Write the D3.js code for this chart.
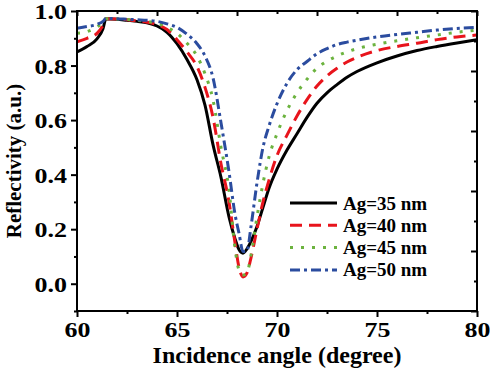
<!DOCTYPE html>
<html>
<head>
<meta charset="utf-8">
<script src="https://cdn.jsdelivr.net/npm/d3@7"></script>
<style>
  body { margin: 0; background: #fff; }
  svg text { font-family: "Liberation Serif", "Times New Roman", serif; font-weight: bold; fill: #000; }
</style>
</head>
<body>
<div id="chart"></div>
<script>
// Incidence angles (degree) shared by all curves
const angles = [60, 60.5, 61, 61.3, 61.45, 62, 62.5, 63, 63.5, 64, 64.5, 65, 65.5, 66, 66.4, 66.8,
  67.2, 67.6, 67.9, 68.1, 68.3, 68.5, 68.7, 69, 69.3, 69.6, 70, 70.5, 71, 71.5, 72,
  72.5, 73, 73.5, 74, 75, 76, 77, 78, 79, 80];

// Reflectivity
const ag35 = [0.850, 0.870, 0.898, 0.935, 0.972, 0.970, 0.966, 0.962, 0.957, 0.945, 0.922, 0.880, 0.822, 0.748, 0.655, 0.510,
  0.390, 0.245, 0.165, 0.125, 0.112, 0.128, 0.155, 0.210, 0.280, 0.350, 0.420, 0.490, 0.550, 0.610, 0.662,
  0.700, 0.730, 0.757, 0.778, 0.810, 0.835, 0.855, 0.870, 0.883, 0.895];
const ag40 = [0.887, 0.900, 0.918, 0.948, 0.972, 0.971, 0.968, 0.964, 0.959, 0.950, 0.932, 0.895, 0.850, 0.796, 0.720, 0.610,
  0.440, 0.300, 0.150, 0.060, 0.025, 0.040, 0.095, 0.200, 0.300, 0.380, 0.470, 0.545, 0.615, 0.675, 0.725,
  0.762, 0.790, 0.813, 0.830, 0.855, 0.870, 0.882, 0.895, 0.905, 0.912];
const ag45 = [0.918, 0.924, 0.942, 0.958, 0.972, 0.971, 0.969, 0.966, 0.962, 0.955, 0.940, 0.918, 0.882, 0.835, 0.770, 0.674,
  0.500, 0.344, 0.130, 0.050, 0.032, 0.040, 0.105, 0.245, 0.368, 0.465, 0.550, 0.635, 0.700, 0.750, 0.790,
  0.816, 0.835, 0.850, 0.862, 0.878, 0.891, 0.902, 0.912, 0.922, 0.930];
const ag50 = [0.937, 0.943, 0.951, 0.962, 0.973, 0.972, 0.970, 0.968, 0.966, 0.962, 0.953, 0.940, 0.915, 0.880, 0.835, 0.755,
  0.590, 0.410, 0.255, 0.185, 0.118, 0.120, 0.210, 0.370, 0.500, 0.578, 0.660, 0.735, 0.785, 0.815, 0.843,
  0.862, 0.877, 0.886, 0.893, 0.905, 0.914, 0.922, 0.930, 0.936, 0.940];

const seriesNames = ['Ag=35 nm', 'Ag=40 nm', 'Ag=45 nm', 'Ag=50 nm'];
const seriesValues = [ag35, ag40, ag45, ag50];
const seriesColors = ['#000000', '#e8141c', '#6cb33f', '#2b4c9f'];
const seriesDashes = [null, '12,7', '3,8', '10,4,3,4'];

const xTicks = [60, 65, 70, 75, 80];
const yTicks = [0.0, 0.2, 0.4, 0.6, 0.8, 1.0];

class LineChart {

  constructor(_config, _data) {
    this.config = {
      parentElement: _config.parentElement,
      containerWidth: 490,
      containerHeight: 375,
      margin: { top: 11, right: 13, bottom: 64, left: 77 }
    }
    this.data = _data;
    this.initVis();
  }

  initVis() {
    let vis = this;

    vis.width = vis.config.containerWidth - vis.config.margin.left - vis.config.margin.right;
    vis.height = vis.config.containerHeight - vis.config.margin.top - vis.config.margin.bottom;

    vis.xScale = d3.scaleLinear().domain([60, 80]).range([0, vis.width]);
    vis.yScale = d3.scaleLinear().domain([-0.1, 1.0]).range([vis.height, 0]);
    // right frame carries its own evenly spaced ticks
    vis.rScale = d3.scaleLinear().domain([0, 10]).range([vis.height, 0]);

    vis.svg = d3.select(vis.config.parentElement).append('svg')
      .attr('width', vis.config.containerWidth)
      .attr('height', vis.config.containerHeight);

    vis.chartArea = vis.svg.append('g')
      .attr('transform', `translate(${vis.config.margin.left},${vis.config.margin.top})`);

    vis.svg.append('clipPath').attr('id', 'plot-clip')
      .append('rect')
      .attr('width', vis.width)
      .attr('height', vis.height);

    vis.updateVis();
  }

  updateVis() {
    let vis = this;
    vis.series = seriesNames.map((name, i) => ({
      name: name,
      color: seriesColors[i],
      dash: seriesDashes[i],
      points: angles.map((a, j) => ({ x: a, y: seriesValues[i][j] }))
    }));
    vis.renderVis();
  }

  renderVis() {
    let vis = this;

    const line = d3.line()
      .x(d => vis.xScale(d.x))
      .y(d => vis.yScale(d.y))
      .curve(d3.curveMonotoneX);

    vis.chartArea.append('g')
      .attr('clip-path', 'url(#plot-clip)')
      .selectAll('.curve')
      .data(vis.series)
      .join('path')
      .attr('class', 'curve')
      .attr('fill', 'none')
      .attr('stroke', d => d.color)
      .attr('stroke-width', 3)
      .attr('stroke-dasharray', d => d.dash)
      .attr('d', d => line(d.points));

    // Bottom axis: majors every 5, minors in between
    const xMinor = d3.range(60, 80.01, 2.5).filter(v => !xTicks.includes(v));
    const bottomMinor = vis.chartArea.append('g')
      .attr('transform', `translate(0,${vis.height})`)
      .call(d3.axisBottom(vis.xScale).tickValues(xMinor).tickSize(3).tickFormat(''));
    const bottom = vis.chartArea.append('g')
      .attr('transform', `translate(0,${vis.height})`)
      .call(d3.axisBottom(vis.xScale).tickValues(xTicks).tickSize(6).tickFormat(d3.format('d')));
    bottom.selectAll('text')
      .attr('y', 26).attr('dy', 0)
      .attr('font-size', 22)
      .attr('transform', 'scale(1.18,1)');

    // Left axis
    const yMinor = [-0.1, 0.1, 0.3, 0.5, 0.7, 0.9];
    const leftMinor = vis.chartArea.append('g')
      .call(d3.axisLeft(vis.yScale).tickValues(yMinor).tickSize(3).tickFormat(''));
    const left = vis.chartArea.append('g')
      .call(d3.axisLeft(vis.yScale).tickValues(yTicks).tickSize(6).tickFormat(d3.format('.1f')));
    left.selectAll('text')
      .attr('x', -10 / 1.18).attr('dy', '0.34em')
      .attr('font-size', 22)
      .attr('transform', 'scale(1.18,1)');

    // Top frame: inward ticks every 2 degrees
    const topMinor = vis.chartArea.append('g')
      .call(d3.axisBottom(vis.xScale).tickValues([62, 66, 70, 74, 78]).tickSize(3).tickFormat(''));
    const top = vis.chartArea.append('g')
      .call(d3.axisBottom(vis.xScale).tickValues([60, 64, 68, 72, 76, 80]).tickSize(5).tickFormat(''));

    // Right frame: inward ticks
    const rightMinor = vis.chartArea.append('g')
      .attr('transform', `translate(${vis.width},0)`)
      .call(d3.axisLeft(vis.rScale).tickValues([1, 3, 5, 7, 9]).tickSize(3).tickFormat(''));
    const right = vis.chartArea.append('g')
      .attr('transform', `translate(${vis.width},0)`)
      .call(d3.axisLeft(vis.rScale).tickValues([0, 2, 4, 6, 8, 10]).tickSize(6).tickFormat(''));

    [bottomMinor, bottom, leftMinor, left, topMinor, top, rightMinor, right].forEach(g => {
      g.select('.domain').remove();
      g.selectAll('line').attr('stroke', '#000').attr('stroke-width', 2);
    });

    // Frame
    vis.chartArea.append('rect')
      .attr('width', vis.width)
      .attr('height', vis.height)
      .attr('fill', 'none')
      .attr('stroke', '#000')
      .attr('stroke-width', 2);

    // Axis titles
    vis.svg.append('text')
      .attr('x', vis.config.margin.left + vis.width / 2)
      .attr('y', 363)
      .attr('text-anchor', 'middle')
      .attr('font-size', 24)
      .text('Incidence angle (degree)');

    vis.svg.append('text')
      .attr('transform', `translate(21,${vis.config.margin.top + vis.height / 2}) rotate(-90)`)
      .attr('text-anchor', 'middle')
      .attr('font-size', 21)
      .text('Reflectivity (a.u.)');

    // Legend
    const legend = vis.svg.append('g')
      .attr('transform', 'translate(290,203)');
    const rows = legend.selectAll('.legend-row')
      .data(vis.series)
      .join('g')
      .attr('class', 'legend-row')
      .attr('transform', (d, i) => `translate(0,${i * 22.3})`);
    rows.append('line')
      .attr('x1', 0).attr('x2', 47)
      .attr('stroke', d => d.color)
      .attr('stroke-width', 3)
      .attr('stroke-dasharray', d => d.dash);
    rows.append('text')
      .attr('x', 53)
      .attr('y', 6.5)
      .attr('font-size', 19)
      .text(d => d.name);
  }
}

const chart = new LineChart({ parentElement: '#chart' });
</script>
</body>
</html>
